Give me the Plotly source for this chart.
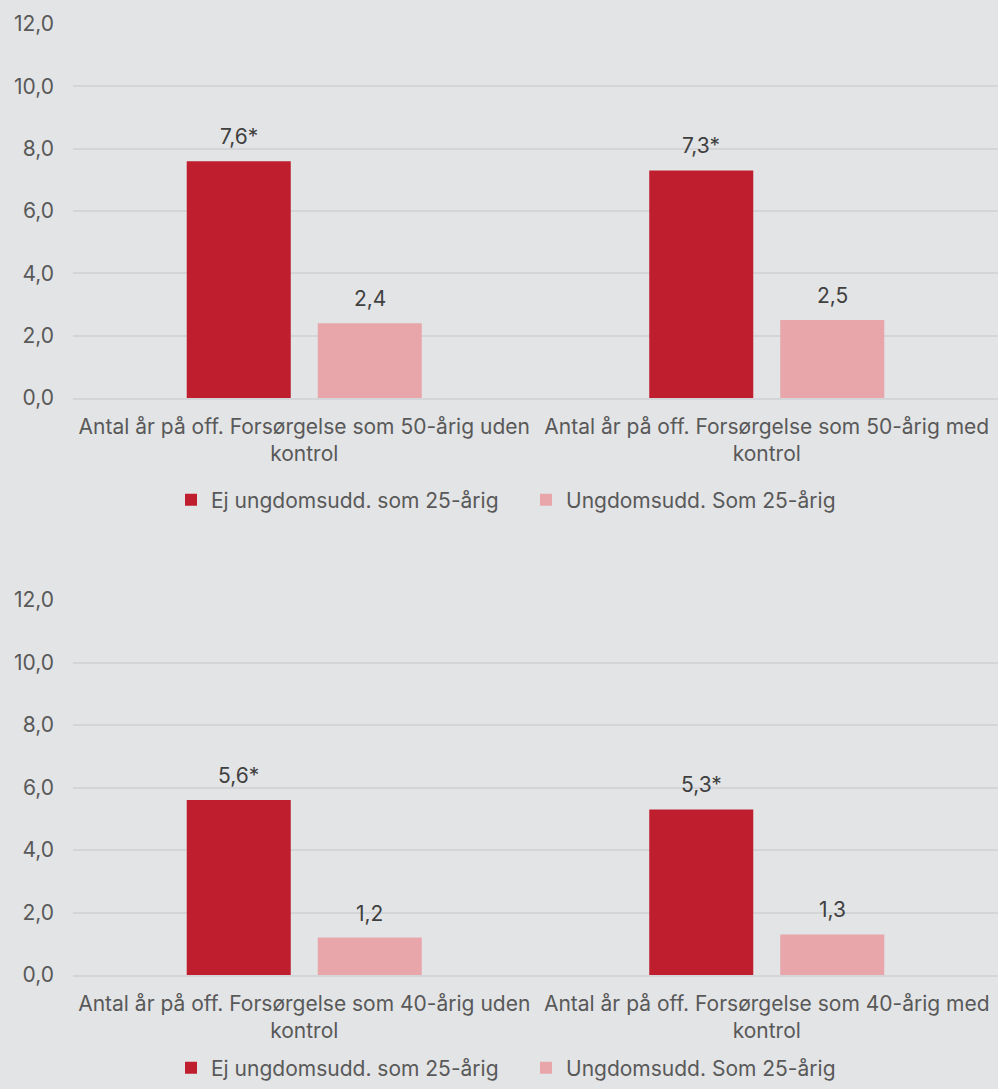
import plotly.graph_objects as go

# Categories per panel (line-wrapped the same way as the axis labels)
categories_50 = [
    "Antal år på off. Forsørgelse som 50-årig uden<br>kontrol",
    "Antal år på off. Forsørgelse som 50-årig med<br>kontrol",
]
categories_40 = [
    "Antal år på off. Forsørgelse som 40-årig uden<br>kontrol",
    "Antal år på off. Forsørgelse som 40-årig med<br>kontrol",
]

series_names = ["Ej ungdomsudd. som 25-årig", "Ungdomsudd. Som 25-årig"]

# Years on public support
no_edu_50 = [7.6, 7.3]
edu_50 = [2.4, 2.5]
no_edu_40 = [5.6, 5.3]
edu_40 = [1.2, 1.3]

# Significance markers per series
sig_no_edu = [True, True]
sig_edu = [False, False]

tick_vals = [0, 2, 4, 6, 8, 10, 12]

DARK_RED = "#be1e2d"
PINK = "#e8a6ab"
BG = "#e3e4e6"
GRID = "#d3d5d8"
TICK_COLOR = "#595959"
LABEL_COLOR = "#404040"
FONT = "Inter, Roboto, sans-serif"
FS = 21

W, H = 998, 1089
M_L, M_T, M_B = 73, 14, 34
PLOT_H = H - M_T - M_B
BAR_OFFSET = 65.5  # px from group centre to each bar centre


def fy(px):
    """Paper fraction for a vertical pixel position in the figure."""
    return 1 - (px - M_T) / PLOT_H


def fmt(values, flags):
    return [f"{v:.1f}".replace(".", ",") + ("*" if s else "") for v, s in zip(values, flags)]


fig = go.Figure()
annotations = []

panels = [
    (categories_50, no_edu_50, edu_50, "x", "y", "legend"),
    (categories_40, no_edu_40, edu_40, "x2", "y2", "legend2"),
]

for cats, dark_vals, light_vals, xa, ya, leg in panels:
    fig.add_trace(go.Bar(
        x=cats, y=dark_vals, name=series_names[0],
        marker=dict(color=DARK_RED, line=dict(width=0)),
        xaxis=xa, yaxis=ya, legend=leg,
    ))
    fig.add_trace(go.Bar(
        x=cats, y=light_vals, name=series_names[1],
        marker=dict(color=PINK, line=dict(width=0)),
        xaxis=xa, yaxis=ya, legend=leg,
    ))
    # value labels above each bar
    for vals, flags, shift in ((dark_vals, sig_no_edu, -BAR_OFFSET),
                               (light_vals, sig_edu, BAR_OFFSET)):
        for c, v, t in zip(cats, vals, fmt(vals, flags)):
            annotations.append(dict(
                x=c, y=v, xref=xa, yref=ya, text=t, showarrow=False,
                xshift=shift, yshift=24.5, yanchor="middle",
                font=dict(size=FS, color=LABEL_COLOR, family=FONT),
            ))

top_dom = [fy(398), fy(24)]
bot_dom = [fy(975), fy(600)]

xaxis_style = dict(
    showgrid=False, showline=True, linecolor=GRID, linewidth=1.5,
    tickfont=dict(size=FS, color=TICK_COLOR, family=FONT),
    ticks="", zeroline=False, ticklabelstandoff=9,
)
yaxis_style = dict(
    range=[0, 12], tickvals=tick_vals, tickformat=".1f",
    showgrid=True, gridcolor=GRID, gridwidth=1.5,
    showline=False, zeroline=False, ticks="",
    tickfont=dict(size=FS, color=TICK_COLOR, family=FONT),
    ticklabelstandoff=18,
)

legend_style = dict(
    orientation="h", xanchor="center", x=(526 - M_L) / (W - M_L),
    yanchor="middle",
    font=dict(size=FS, color=TICK_COLOR, family=FONT),
    bgcolor="rgba(0,0,0,0)", itemwidth=30, entrywidth=310,
    traceorder="normal",
)

fig.update_layout(
    width=W, height=H,
    paper_bgcolor=BG, plot_bgcolor=BG,
    margin=dict(l=M_L, r=0, t=M_T, b=M_B),
    separators=",.",
    barmode="group", bargap=0.4335, bargroupgap=0.206,
    font=dict(family=FONT, color=TICK_COLOR),
    xaxis=dict(domain=[0, 1], anchor="y", **xaxis_style),
    yaxis=dict(domain=top_dom, anchor="x", **yaxis_style),
    xaxis2=dict(domain=[0, 1], anchor="y2", **xaxis_style),
    yaxis2=dict(domain=bot_dom, anchor="x2", **yaxis_style),
    legend=dict(y=fy(500), **legend_style),
    legend2=dict(y=fy(1068), **legend_style),
    annotations=annotations,
)

fig.write_html("out.html")
